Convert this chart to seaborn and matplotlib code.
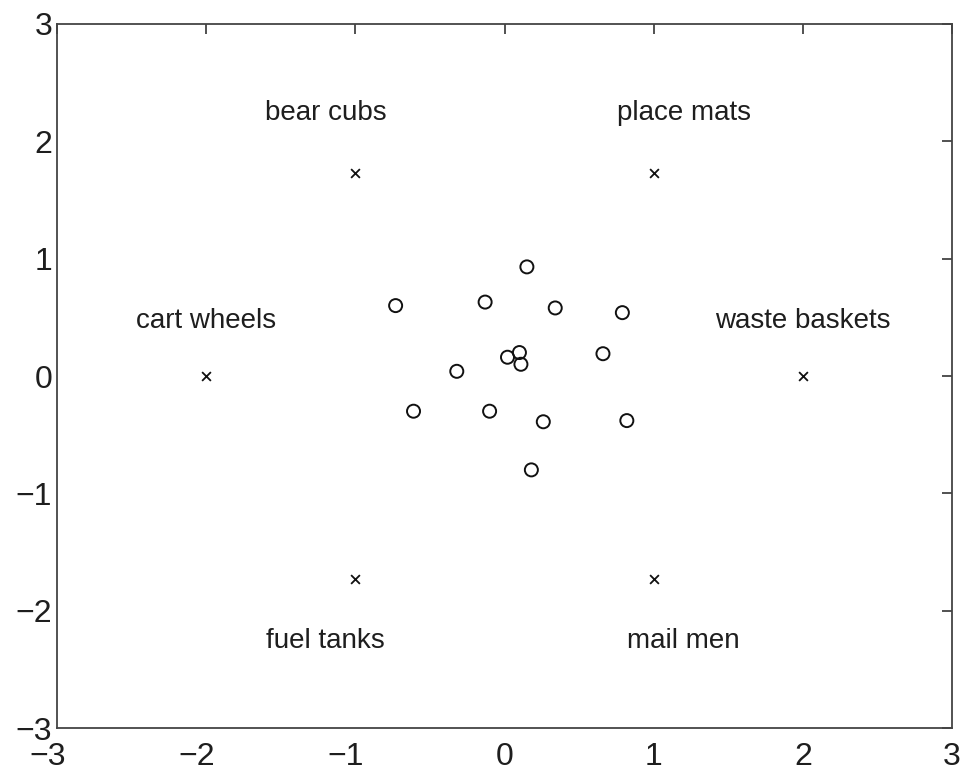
import matplotlib
matplotlib.use("Agg")
import matplotlib.pyplot as plt
import matplotlib.transforms as mtrans
import seaborn as sns
import pandas as pd

# Data
circle_x = [0.15, -0.73, -0.13, 0.34, 0.79, 0.02, 0.10, 0.11, 0.66, -0.32, -0.61, -0.10, 0.26, 0.82, 0.18]
circle_y = [0.93, 0.60, 0.63, 0.58, 0.54, 0.16, 0.20, 0.10, 0.19, 0.04, -0.30, -0.30, -0.39, -0.38, -0.80]
cross_x = [-2.0, -1.0, 1.0, 2.0, 1.0, -1.0]
cross_y = [0.0, 1.73, 1.73, 0.0, -1.73, -1.73]
label_text = ["bear cubs", "place mats", "cart wheels", "waste baskets", "fuel tanks", "mail men"]
label_x = [-1.2, 1.2, -2.0, 2.0, -1.2, 1.2]
label_y = [2.24, 2.24, 0.47, 0.47, -2.26, -2.26]
ticks = [-3, -2, -1, 0, 1, 2, 3]

sns.set_theme(style="white")
plt.rcParams['font.family'] = ['Liberation Sans', 'DejaVu Sans']

circles = pd.DataFrame({"x": circle_x, "y": circle_y})
crosses = pd.DataFrame({"x": cross_x, "y": cross_y})

fig = plt.figure(figsize=(9.63, 7.74), dpi=100)
ax = fig.add_axes([0.0592, 0.0594, 0.9294, 0.9096])

sns.scatterplot(data=circles, x="x", y="y", ax=ax, marker="o", s=88,
                facecolor="none", edgecolor="#111111", linewidth=1.4, zorder=3)
sns.scatterplot(data=crosses, x="x", y="y", ax=ax, marker="x", s=40,
                color="#111111", linewidth=1.3, zorder=3)

for t, x, y in zip(label_text, label_x, label_y):
    ax.text(x, y, t, ha="center", va="center", fontsize=20, color="#1e1e1e")

ax.set_xlim(-3, 3)
ax.set_ylim(-3, 3)
ax.set_xticks(ticks)
ax.set_yticks(ticks)
ax.set_xlabel("")
ax.set_ylabel("")
ax.tick_params(axis="both", which="both", direction="in", length=7, width=1.2,
               color="#333333", labelsize=23, labelcolor="#1e1e1e",
               top=True, right=True, labeltop=False, labelright=False)
ax.tick_params(axis="x", pad=10)
ax.tick_params(axis="y", pad=3.5)
for sp in ax.spines.values():
    sp.set_visible(True)
    sp.set_color("#444444")
    sp.set_linewidth(1.3)

fig.canvas.draw()
shift = mtrans.ScaledTranslation(-7 / 72, 0, fig.dpi_scale_trans)
for lab, v in zip(ax.get_xticklabels(), ticks):
    if v < 0:
        lab.set_transform(lab.get_transform() + shift)

fig.savefig("out.png", dpi=100, facecolor="white")
